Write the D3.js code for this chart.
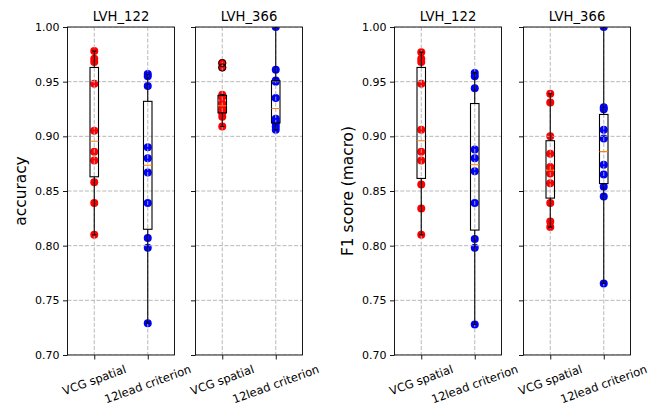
<!DOCTYPE html>
<html>
<head>
<meta charset="utf-8">
<script src="https://cdn.jsdelivr.net/npm/d3@7"></script>
<style>
  html, body { margin: 0; padding: 0; background: #fff; }
  svg { display: block; font-family: "DejaVu Sans", sans-serif; }
</style>
</head>
<body>
<svg id="chart" width="659" height="410"></svg>
<script>
// ---------- data ----------
const categories = ["VCG spatial", "12lead criterion"];
const datasets = ["LVH_122", "LVH_366"];
const metrics = ["accuracy", "F1 score (macro)"];
const yTicks = [0.70, 0.75, 0.80, 0.85, 0.90, 0.95, 1.00];
const seriesColors = ["red", "blue"];

const acc122VCG  = [0.978, 0.971, 0.968, 0.948, 0.905, 0.886, 0.878, 0.858, 0.839, 0.810];
const acc122Lead = [0.957, 0.955, 0.946, 0.890, 0.880, 0.867, 0.839, 0.807, 0.798, 0.729];
const acc366VCG  = [0.967, 0.963, 0.938, 0.936, 0.930, 0.926, 0.923, 0.921, 0.918, 0.909];
const acc366Lead = [1.000, 0.961, 0.951, 0.950, 0.935, 0.916, 0.913, 0.912, 0.909, 0.906];
const f1122VCG   = [0.977, 0.971, 0.968, 0.948, 0.906, 0.886, 0.878, 0.856, 0.834, 0.810];
const f1122Lead  = [0.958, 0.955, 0.944, 0.888, 0.880, 0.868, 0.839, 0.806, 0.798, 0.728];
const f1366VCG   = [0.939, 0.931, 0.900, 0.884, 0.872, 0.866, 0.857, 0.839, 0.822, 0.817];
const f1366Lead  = [1.000, 0.9265, 0.9247, 0.906, 0.898, 0.874, 0.865, 0.854, 0.845, 0.7655];

const panels = [
  { title: datasets[0], ylabel: metrics[0], series: [acc122VCG, acc122Lead], left: 67.5 },
  { title: datasets[1], ylabel: null,       series: [acc366VCG, acc366Lead], left: 195.5 },
  { title: datasets[0], ylabel: metrics[1], series: [f1122VCG, f1122Lead],   left: 394.5 },
  { title: datasets[1], ylabel: null,       series: [f1366VCG, f1366Lead],   left: 523.5 }
];

// ---------- layout ----------
const W = 107, TOP = 27, BOTTOM = 355;
const svg = d3.select("#chart");
const y = d3.scaleLinear().domain([0.70, 1.00]).range([BOTTOM, TOP]);
const gridColor = "#b0b0b0";

function boxStats(values) {
  const s = values.slice().sort(d3.ascending);
  const q1 = d3.quantileSorted(s, 0.25), med = d3.quantileSorted(s, 0.5), q3 = d3.quantileSorted(s, 0.75);
  const iqr = q3 - q1;
  const lo = q1 - 1.5 * iqr, hi = q3 + 1.5 * iqr;
  const inside = s.filter(v => v >= lo && v <= hi);
  return { q1, med, q3, wlo: d3.min(inside), whi: d3.max(inside), fliers: s.filter(v => v < lo || v > hi) };
}

panels.forEach((p, pi) => {
  const x = d3.scaleLinear().domain([0.5, 2.5]).range([p.left, p.left + W]);
  const g = svg.append("g");
  const clipId = "clip" + pi;
  svg.append("clipPath").attr("id", clipId)
    .append("rect").attr("x", p.left).attr("y", TOP).attr("width", W).attr("height", BOTTOM - TOP);
  const plot = g.append("g").attr("clip-path", `url(#${clipId})`);

  // scatter points
  p.series.forEach((vals, si) => {
    plot.selectAll(null).data(vals).enter().append("circle")
      .attr("cx", x(si + 1)).attr("cy", d => y(d)).attr("r", 4)
      .attr("fill", seriesColors[si]);
  });

  // grid
  plot.selectAll(null).data(yTicks).enter().append("line")
    .attr("x1", p.left).attr("x2", p.left + W)
    .attr("y1", d => y(d)).attr("y2", d => y(d))
    .attr("stroke", gridColor).attr("stroke-width", 0.9).attr("stroke-dasharray", "4,1.8");
  plot.selectAll(null).data([1, 2]).enter().append("line")
    .attr("x1", d => x(d)).attr("x2", d => x(d))
    .attr("y1", TOP).attr("y2", BOTTOM)
    .attr("stroke", gridColor).attr("stroke-width", 0.9).attr("stroke-dasharray", "4,1.8");

  // boxplots
  const bw = 4.25, cw = 2.2;
  p.series.forEach((vals, si) => {
    const st = boxStats(vals);
    const cx = x(si + 1);
    const bg = plot.append("g").attr("stroke", "black").attr("stroke-width", 1.1).attr("fill", "none");
    bg.append("line").attr("x1", cx).attr("x2", cx).attr("y1", y(st.q3)).attr("y2", y(st.whi));
    bg.append("line").attr("x1", cx).attr("x2", cx).attr("y1", y(st.q1)).attr("y2", y(st.wlo));
    bg.append("line").attr("x1", cx - cw).attr("x2", cx + cw).attr("y1", y(st.whi)).attr("y2", y(st.whi));
    bg.append("line").attr("x1", cx - cw).attr("x2", cx + cw).attr("y1", y(st.wlo)).attr("y2", y(st.wlo));
    bg.append("rect").attr("x", cx - bw).attr("y", y(st.q3)).attr("width", 2 * bw).attr("height", y(st.q1) - y(st.q3));
    plot.append("line").attr("x1", cx - bw).attr("x2", cx + bw).attr("y1", y(st.med)).attr("y2", y(st.med))
      .attr("stroke", "#ff7f0e").attr("stroke-width", 1.1);
    plot.selectAll(null).data(st.fliers).enter().append("circle")
      .attr("cx", cx).attr("cy", d => y(d)).attr("r", 3.6)
      .attr("fill", "none").attr("stroke", "black").attr("stroke-width", 1);
  });

  // spines
  g.append("rect").attr("x", p.left).attr("y", TOP).attr("width", W).attr("height", BOTTOM - TOP)
    .attr("fill", "none").attr("stroke", "black").attr("stroke-width", 0.9);

  // y axis
  const yAxis = d3.axisLeft(y).tickValues(yTicks).tickSize(4.5).tickPadding(3.5)
    .tickFormat(p.ylabel ? d3.format(".2f") : () => "");
  const ya = g.append("g").attr("transform", `translate(${p.left},0)`).call(yAxis);
  ya.select(".domain").remove();
  ya.selectAll("line").attr("stroke", "black").attr("stroke-width", 0.9);
  ya.selectAll("text").attr("font-size", 11).attr("fill", "black").attr("font-family", "DejaVu Sans");

  // x axis
  const xAxis = d3.axisBottom(x).tickValues([1, 2]).tickSize(4.5).tickFormat(() => "");
  const xa = g.append("g").attr("transform", `translate(0,${BOTTOM})`).call(xAxis);
  xa.select(".domain").remove();
  xa.selectAll("line").attr("stroke", "black").attr("stroke-width", 0.9);

  // rotated x tick labels (centered)
  const deg = 20, ang = deg * Math.PI / 180;
  categories.forEach((c, ci) => {
    const t = g.append("text").text(c).attr("font-size", 11.5).attr("fill", "black")
      .attr("text-anchor", "middle").attr("dominant-baseline", "central");
    const w = t.node().getComputedTextLength();
    const h = 13;
    const bh = w * Math.sin(ang) + h * Math.cos(ang);
    const cx = x(ci + 1), cy = BOTTOM + 7.5 + bh / 2;
    t.attr("x", cx).attr("y", cy).attr("transform", `rotate(-${deg},${cx},${cy})`);
  });

  // title
  g.append("text").text(p.title).attr("x", p.left + W / 2).attr("y", 21)
    .attr("text-anchor", "middle").attr("font-size", 13.2).attr("fill", "black");

  // y label
  if (p.ylabel) {
    const lx = p.left - 47, ly = (TOP + BOTTOM) / 2;
    g.append("text").text(p.ylabel).attr("x", lx).attr("y", ly)
      .attr("text-anchor", "middle").attr("dominant-baseline", "central")
      .attr("transform", `rotate(-90,${lx},${ly})`)
      .attr("font-size", 15.4).attr("fill", "black");
  }
});
</script>
</body>
</html>
